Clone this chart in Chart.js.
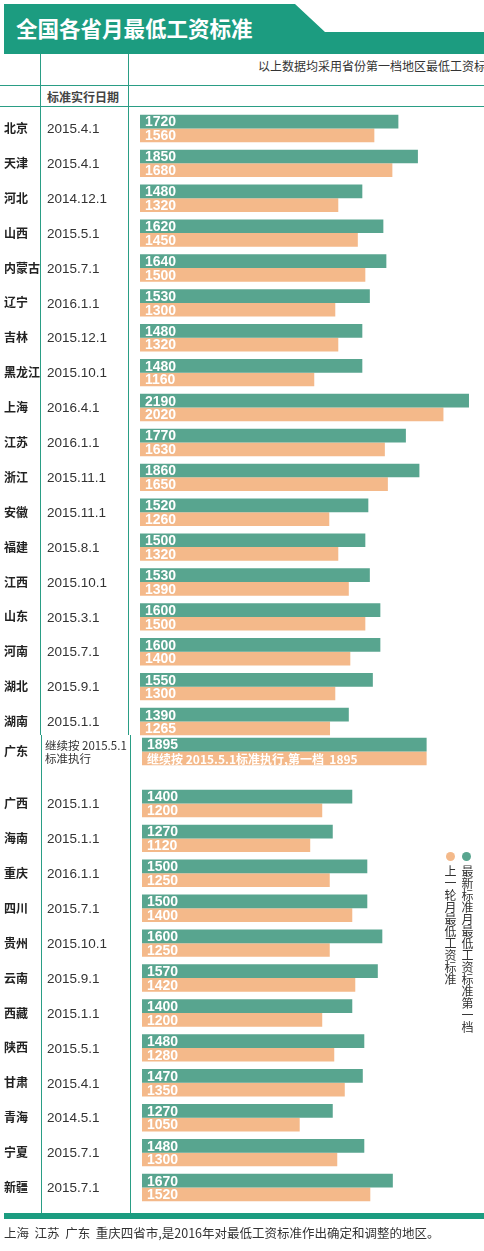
<!DOCTYPE html>
<html>
<head>
<meta charset="utf-8">
<script src="https://cdn.jsdelivr.net/npm/chart.js@4/dist/chart.umd.min.js"></script>
<style>
  body { margin: 0; background: #fff; }
  #page { position: relative; width: 484px; height: 1251px; overflow: hidden; font-family: "Noto Sans CJK SC", "Liberation Sans", sans-serif; color: #333; }
  .abs { position: absolute; }
  #banner { left: 4px; top: 4px; width: 480px; height: 50px; background: #1c9c80;
    clip-path: polygon(0 0, 291px 0, 321px 28px, 480px 28px, 480px 50px, 0 50px); }
  #title { left: 16px; top: 13px; font-size: 21.5px; font-weight: bold; color: #fff; line-height: 30px; }
  .vline { width: 1.4px; background: #2a9d85; }
  .hline { height: 1.4px; background: #2a9d85; left: 0; width: 484px; }
  .vtext { writing-mode: vertical-rl; font-size: 12px; line-height: 14px; color: #333; }
  .dot { width: 9px; height: 9px; border-radius: 50%; }
  canvas { position: absolute; left: 0; }
</style>
</head>
<body>
<div id="page">
  <div id="banner" class="abs"></div>
  <div id="title" class="abs">全国各省月最低工资标准</div>
  <div class="abs" style="left:258px; top:58px; font-size:12px; white-space:nowrap; line-height:16px;">以上数据均采用省份第一档地区最低工资标准</div>
  <div class="abs hline" style="top:85px;"></div>
  <div class="abs" style="left:47px; top:89px; font-size:12px; font-weight:bold; color:#444; line-height:16px;">标准实行日期</div>
  <div class="abs hline" style="top:106px;"></div>
  <div class="abs vline" style="left:40px; top:54px; height:681px;"></div>
  <div class="abs vline" style="left:128px; top:54px; height:681px;"></div>
  <div class="abs vline" style="left:41px; top:735px; height:479px;"></div>
  <div class="abs vline" style="left:130px; top:735px; height:479px;"></div>

  <canvas id="chartTop" width="484" height="628" style="top:111px;"></canvas>
  <canvas id="chartGd" width="484" height="35" style="top:734px;"></canvas>
  <canvas id="chartBottom" width="484" height="419" style="top:786px;"></canvas>

  <div class="abs dot" style="left:462px; top:852px; background:#58a58f;"></div>
  <div class="abs dot" style="left:446px; top:852px; background:#f4b98a;"></div>
  <div class="abs vtext" style="left:460px; top:865px;">最新标准月最低工资标准第一档</div>
  <div class="abs vtext" style="left:443px; top:865px;">上一轮月最低工资标准</div>

  <div class="abs" style="left:4px; top:1213px; width:480px; height:6px; background:#1c9c80;"></div>
  <div class="abs" style="left:4px; top:1224px; font-size:12.5px; white-space:nowrap; line-height:18px;">上海&nbsp;&nbsp;江苏&nbsp;&nbsp;广东&nbsp;&nbsp;重庆四省市,是2016年对最低工资标准作出确定和调整的地区。</div>
</div>

<script>
// 上半部分
const provincesTop = ['北京', '天津', '河北', '山西', '内蒙古', '辽宁', '吉林', '黑龙江', '上海',
  '江苏', '浙江', '安徽', '福建', '江西', '山东', '河南', '湖北', '湖南'];
const datesTop = ['2015.4.1', '2015.4.1', '2014.12.1', '2015.5.1', '2015.7.1', '2016.1.1', '2015.12.1',
  '2015.10.1', '2016.4.1', '2016.1.1', '2015.11.1', '2015.11.1', '2015.8.1', '2015.10.1', '2015.3.1',
  '2015.7.1', '2015.9.1', '2015.1.1'];
const newTop = [1720, 1850, 1480, 1620, 1640, 1530, 1480, 1480, 2190, 1770, 1860, 1520, 1500, 1530, 1600, 1600, 1550, 1390];
const oldTop = [1560, 1680, 1320, 1450, 1500, 1300, 1320, 1160, 2020, 1630, 1650, 1260, 1320, 1390, 1500, 1400, 1300, 1265];

// 广东
const provincesGd = ['广东'];
const datesGd = [['继续按 2015.5.1', '标准执行']];
const newGd = [1895];
const oldGd = [1895];
const oldGdText = ['继续按 2015.5.1标准执行,第一档  1895'];

// 下半部分
const provincesBottom = ['广西', '海南', '重庆', '四川', '贵州', '云南', '西藏', '陕西', '甘肃', '青海', '宁夏', '新疆'];
const datesBottom = ['2015.1.1', '2015.1.1', '2016.1.1', '2015.7.1', '2015.10.1', '2015.9.1', '2015.1.1',
  '2015.5.1', '2015.4.1', '2014.5.1', '2015.7.1', '2015.7.1'];
const newBottom = [1400, 1270, 1500, 1500, 1600, 1570, 1400, 1480, 1470, 1270, 1480, 1670];
const oldBottom = [1200, 1120, 1250, 1400, 1250, 1420, 1200, 1280, 1350, 1050, 1300, 1520];

const GREEN = '#58a58f';
const ORANGE = '#f4b98a';

function makeChart(id, provinces, dates, newVals, oldVals, oldText, left, max) {
    const ctx = document.getElementById(id);

    return new Chart(ctx, {
        type: 'bar',
        data: {
            labels: provinces,
            datasets: [
                { label: '最新标准月最低工资标准第一档', data: newVals, backgroundColor: GREEN },
                { label: '上一轮月最低工资标准', data: oldVals, backgroundColor: ORANGE, texts: oldText }
            ]
        },
        options: {
            indexAxis: 'y',
            responsive: false,
            animation: false,
            layout: { padding: { left: left, right: 0, top: 0, bottom: 0 } },
            datasets: { bar: { categoryPercentage: 0.785, barPercentage: 1 } },
            scales: {
                x: { display: false, min: 0, max: max },
                y: { display: false }
            },
            plugins: { legend: { display: false }, tooltip: { enabled: false } }
        },
        plugins: [{
            id: 'rowText',
            afterDraw: (chart) => {
                const { ctx, scales: { y } } = chart;
                ctx.save();
                ctx.textBaseline = 'middle';
                ctx.textAlign = 'left';

                // 省份 + 日期
                provinces.forEach((name, i) => {
                    const yy = y.getPixelForValue(i);
                    ctx.fillStyle = '#222';
                    ctx.font = 'bold 12px "Noto Sans CJK SC"';
                    ctx.fillText(name, 4, yy);

                    const d = dates[i];
                    ctx.fillStyle = '#333';
                    if (Array.isArray(d)) {
                        ctx.font = '11.5px "Noto Sans CJK SC"';
                        ctx.fillText(d[0], 45, yy - 6);
                        ctx.fillText(d[1], 45, yy + 7);
                    } else {
                        ctx.font = '13.5px "Liberation Sans"';
                        ctx.fillText(d, 47, yy + 1);
                    }
                });

                // 막대 안 숫자
                chart.data.datasets.forEach((ds, di) => {
                    const meta = chart.getDatasetMeta(di);
                    meta.data.forEach((bar, i) => {
                        ctx.fillStyle = '#fff';
                        let txt = ds.data[i].toString();
                        ctx.font = 'bold 14px "Liberation Sans"';
                        if (ds.texts && ds.texts[i]) {
                            txt = ds.texts[i];
                            ctx.font = 'bold 12px "Noto Sans CJK SC"';
                        }
                        ctx.fillText(txt, bar.base + 5, bar.y + 1);
                    });
                });
                ctx.restore();
            }
        }]
    });
}

makeChart('chartTop', provincesTop, datesTop, newTop, oldTop, null, 140, 2290);
makeChart('chartGd', provincesGd, datesGd, newGd, oldGd, oldGdText, 142, 2277);
makeChart('chartBottom', provincesBottom, datesBottom, newBottom, oldBottom, null, 142, 2277);
</script>
</body>
</html>
